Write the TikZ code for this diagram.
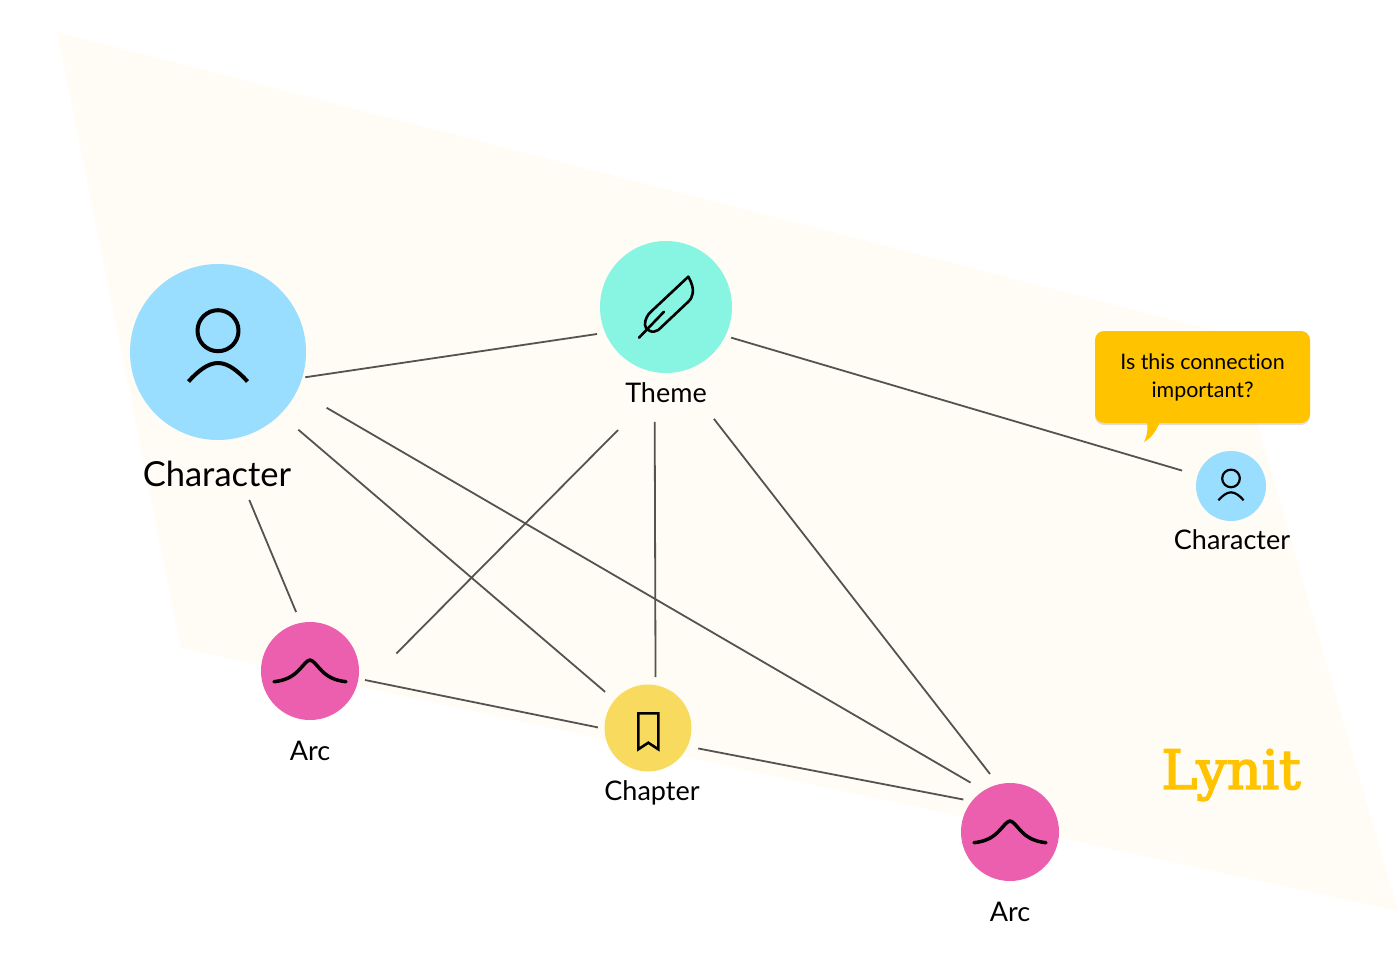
\documentclass[tikz,border=0pt]{standalone}
\usepackage{fontspec}
\usepackage{tikz}
\usetikzlibrary{shadows}
\setmainfont[Ligatures=NoCommon]{Lato}
\newfontfamily\brandfont[FakeBold=3]{DejaVu Serif}
\definecolor{sheet}{HTML}{FFFCF5}
\definecolor{charblue}{HTML}{99DDFF}
\definecolor{themegreen}{HTML}{88F4E2}
\definecolor{arcpink}{HTML}{EC5FAF}
\definecolor{chapteryellow}{HTML}{F8DB5E}
\definecolor{amber}{HTML}{FFC300}
\definecolor{wire}{HTML}{55534F}
\tikzset{
  hub/.style={circle, inner sep=0pt, outer sep=0pt, minimum size=#1},
  tag/.style={inner sep=0pt, font=\fontsize{27}{30}\selectfont},
  link/.style={draw=wire, line width=1.8pt},
  icon/.style={draw=black, line cap=round, line join=round},
  pics/personicon/.style={code={
    \draw [icon, line width=#1] (0,-21.3) circle (20.5);
    \draw [icon, line width=#1, line cap=butt] (-29.5,29.5) .. controls (-20,19) and (-10,11) .. (0,11) .. controls (10,11) and (20,19) .. (29.5,29.5);
  }},
  pics/arcicon/.style={code={
    \draw [icon, line width=3.5pt] (-36,10.7) .. controls (-25,9.5) and (-18,6) .. (-12,0) .. controls (-7,-5) and (-3,-11) .. (0,-11) .. controls (3,-11) and (7,-5) .. (12,0) .. controls (18,6) and (25,9.5) .. (36,10.7);
  }},
  pics/feathericon/.style={code={
    \draw [icon, line width=2.6pt] (22.3,-30.3) .. controls (26,-24) and (27.5,-18) .. (26.7,-13.7) .. controls (26,-10) and (25,-8) .. (22.3,-5.3) -- (-7.7,23) .. controls (-10,25) and (-14,25) .. (-16,24) .. controls (-19,23) and (-21,21) .. (-21,18) .. controls (-21,15) and (-20.5,12) .. (-19.3,10.3) .. controls (-18.5,8) and (-16.5,6) .. (-14.3,4) -- cycle;
    \draw [icon, line width=2.6pt] (-27,30.7) -- (-2,4.7);
  }},
  pics/bookmarkicon/.style={code={
    \draw [icon, line width=2.6pt, line cap=butt, line join=miter] (-9.7,-14.7) -- (10.3,-14.7) -- (10.3,21.3) -- (0.3,14.7) -- (-9.7,21.3) -- cycle;
  }}
}
\begin{document}
\begin{tikzpicture}[x=1pt,y=-1pt]
  \useasboundingbox (0,0) rectangle (1400,971);
  \fill [sheet] (57,32) -- (1232,335) -- (1398,911) -- (181,648) -- cycle;

  \node [hub=176pt, fill=charblue] (chara) at (218,352) {};
  \node [hub=132pt, fill=themegreen] (theme) [node distance=448pt, right of=chara, yshift=45pt] {};
  \node [hub=87pt, fill=chapteryellow] (chapter) [node distance=421pt, below of=theme, xshift=-18pt] {};
  \node [hub=98pt, fill=arcpink] (arca) [node distance=338pt, left of=chapter, yshift=57pt] {};
  \node [hub=98pt, fill=arcpink] (arcb) [node distance=362pt, right of=chapter, yshift=-104pt] {};
  \node [hub=70pt, fill=charblue] (charb) [node distance=565pt, right of=theme, yshift=-179pt] {};

  \node [tag, font=\fontsize{34.5}{38}\selectfont] (charalabel) [node distance=122pt, below of=chara, xshift=-1pt] {Character};
  \node [tag] (themelabel) [node distance=86pt, below of=theme] {Theme};
  \node [tag] (chapterlabel) [node distance=65pt, below of=chapter, xshift=4pt] {Chapter};
  \node [tag] (arcalabel) [node distance=80pt, below of=arca] {Arc};
  \node [tag] (arcblabel) [node distance=80pt, below of=arcb] {Arc};
  \node [tag] (charblabel) [node distance=54pt, below of=charb, xshift=1pt] {Character};

  \pic at (chara) {personicon=4pt};
  \pic [scale=.43, yshift=-3.7pt] at (charb) {personicon=2.2pt};
  \pic at (arca) {arcicon};
  \pic at (arcb) {arcicon};
  \pic at (theme) {feathericon};
  \pic at (chapter) {bookmarkicon};

  \path
  (chara.-17.5) edge [link, shorten <=3.1pt, shorten >=8.3pt] (theme.203)
  (chara.-26.9) edge [link, shorten <=34.2pt, shorten >=15.6pt] (arcb.122.7)
  (chara.-45.3) edge [link, shorten <=23.8pt, shorten >=12.6pt] (chapter.140.2)
  (chara.-86.2) edge [link, shorten <=65.2pt, shorten >=11.8pt] (arca.101.1)
  (theme.-82) edge [link, shorten <=81.2pt, shorten >=72.6pt] (arca.-44.7)
  (theme.260.4) edge [link, shorten <=49.9pt, shorten >=8.1pt] (chapter.80.7)
  (theme.-80.9) edge [link, shorten <=59.4pt, shorten >=13.3pt] (arcb.104)
  (theme.-26.4) edge [link, shorten <=6.1pt, shorten >=16.3pt] (charb.162.7)
  (arca.-9) edge [link, shorten <=6.7pt, shorten >=6.7pt] (chapter.181.8)
  (chapter.-25.7) edge [link, shorten <=11pt, shorten >=8.7pt] (arcb.141.7)
  ;

  \node [fill=amber, rounded corners=9pt, minimum width=215pt, minimum height=92pt, inner sep=0pt, align=center, drop shadow={shadow xshift=0pt, shadow yshift=-2pt, opacity=.12, fill=black}, font=\fontsize{21.4}{28}\selectfont] (prompt) at (1202.5,377) {\raisebox{-2pt}{Is this connection}\\\raisebox{-2pt}{important?}};
  \fill [amber] (1147,421) .. controls (1148,430) and (1147,437) .. (1144,442) .. controls (1150,439) and (1157,431) .. (1160,421) -- cycle;

  \node [inner sep=0pt, text=amber, font=\brandfont\fontsize{54}{58}\selectfont] (brand) at (1231,775) {Lynit};
\end{tikzpicture}
\end{document}
